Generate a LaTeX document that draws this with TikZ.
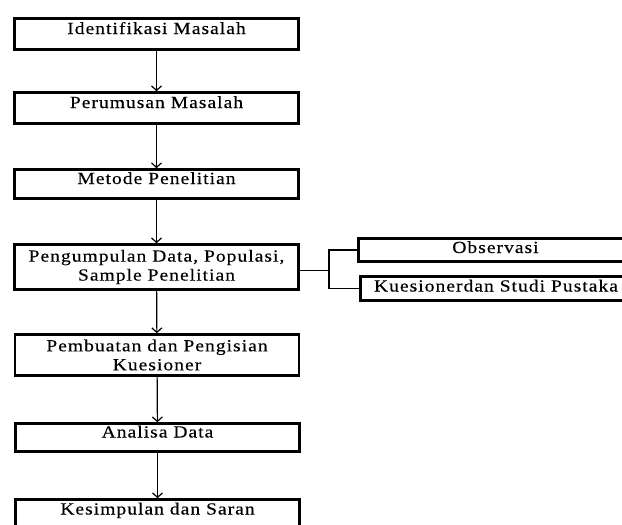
\documentclass[tikz,border=0pt]{standalone}
\usepackage{fontspec}
\setmainfont[FakeStretch=1.15,LetterSpace=6,FakeBold=0.3]{Liberation Serif}
\usetikzlibrary{arrows.meta}
\begin{document}
\begin{tikzpicture}[x=1pt,y=-1pt,
  box/.style={draw=black,line width=2.6pt,inner sep=0pt,align=center,
    font=\fontsize{17}{16}\selectfont},
  one/.style={text height=7pt,text depth=7pt},
  side/.style={text height=9pt,text depth=3pt},
  arr/.style={line width=1.2pt,-{Straight Barb[length=4.5pt,width=10pt,line width=1.2pt]}},
  link/.style={line width=1.2pt}]
\useasboundingbox (0,0) rectangle (622,525);
\clip (0,0) rectangle (622,525);
\node[box,one,minimum width=284pt,minimum height=31pt] (b1) at (156.5,34) {Identifikasi Masalah};
\node[box,one,minimum width=284pt,minimum height=31pt] (b2) at (156.5,108) {Perumusan Masalah};
\node[box,one,minimum width=284pt,minimum height=29pt] (b3) at (156.5,184) {Metode Penelitian};
\node[box,minimum width=284pt,minimum height=45pt] (b4) at (156.5,267) {Pengumpulan Data, Populasi,\\[3pt]Sample Penelitian};
\node[box,minimum width=284pt,minimum height=41pt] (b5) at (157,355) {Pembuatan dan Pengisian\\[3pt]Kuesioner};
\node[box,one,minimum width=284pt,minimum height=28pt] (b6) at (157.5,437.5) {Analisa Data};
\node[box,one,minimum width=284pt,minimum height=30pt] (b7) at (157.5,514.5) {Kesimpulan dan Saran};
\node[box,side,minimum width=274pt,minimum height=23pt] (obs) at (495.5,250) {Observasi};
\node[box,side,minimum width=271pt,minimum height=24pt] (kue) at (496,288.5) {Kuesionerdan Studi Pustaka};
\draw[arr] (b1) -- (b2);
\draw[arr] (b2) -- (b3);
\draw[arr] (b3) -- (b4);
\draw[arr] (b4) -- (b5);
\draw[arr] (b5) -- (b6);
\draw[arr] (b6) -- (b7);
\coordinate (j) at (329,270.5);
\draw[link] ([yshift=-3.5pt]b4.east) -- (j);
\draw[link] (j) |- (obs.west);
\draw[link] (j) |- (kue.west);
\end{tikzpicture}
\end{document}
